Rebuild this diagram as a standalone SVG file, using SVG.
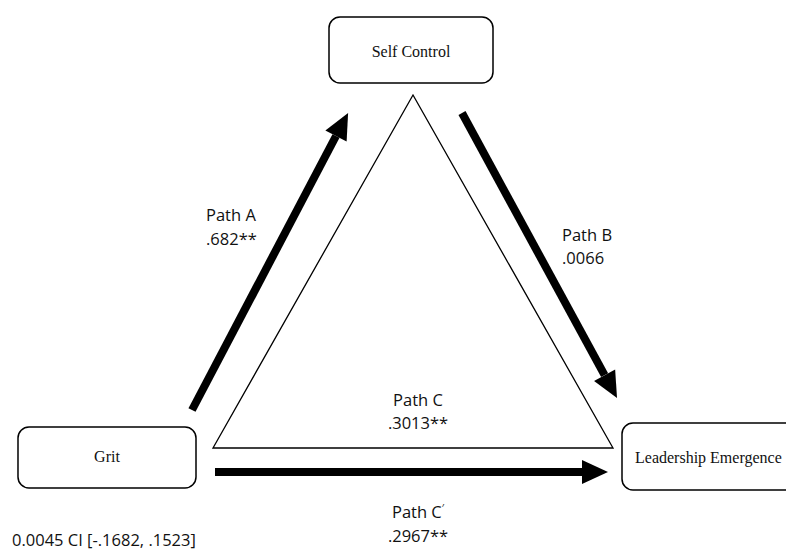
<svg xmlns="http://www.w3.org/2000/svg" width="786" height="557" viewBox="0 0 786 557">
<style>
.box{fill:#fff;stroke:#000;stroke-width:1.5}
.nt{font-family:"Liberation Serif","Times New Roman",serif;font-size:16px;fill:#111}
.lb{font-family:"Open Sans","Liberation Sans",sans-serif;font-size:16.5px;fill:#111}
.arr{stroke:#000;stroke-width:8;fill:none;marker-end:url(#ah)}
.tri{fill:none;stroke:#000;stroke-width:1.3}
</style>
<defs>
<marker id="ah" markerUnits="userSpaceOnUse" markerWidth="30" markerHeight="30" refX="0" refY="0" orient="auto" overflow="visible" viewBox="-2 -15 30 30">
<path d="M0,-12 L26,0 L0,12 z" fill="#000"/>
</marker>
</defs>
<rect width="786" height="557" fill="#fff"/>
<g id="triangle">
<polygon class="tri" points="413,95 213,448 613,448"/>
</g>
<g id="connectors">
<line id="pathA" class="arr" x1="192" y1="410" x2="336" y2="136"/>
<line id="pathB" class="arr" x1="462" y1="113" x2="604.6" y2="375.2"/>
<line id="pathC2" class="arr" x1="215" y1="472" x2="582" y2="472"/>
</g>
<g id="selfcontrol">
<rect class="box" x="329" y="17" width="164" height="66" rx="11"/>
<text class="nt" x="411" y="57" text-anchor="middle">Self Control</text>
</g>
<g id="grit">
<rect class="box" x="18" y="427" width="178" height="61" rx="11"/>
<text class="nt" x="107" y="462" text-anchor="middle">Grit</text>
</g>
<g id="leadership">
<rect class="box" x="622" y="423" width="190" height="67" rx="11"/>
<text class="nt" x="635" y="463" font-size="16.3">Leadership Emergence</text>
</g>
<g id="labels">
<text class="lb" x="206" y="221">Path A</text>
<text class="lb" x="206" y="245">.682**</text>
<text class="lb" x="562" y="241">Path B</text>
<text class="lb" x="562" y="264">.0066</text>
<text class="lb" x="418" y="406" text-anchor="middle">Path C</text>
<text class="lb" x="418" y="429" text-anchor="middle">.3013**</text>
<text class="lb" x="418" y="518" text-anchor="middle">Path C<tspan font-size="10" dy="-6">′</tspan></text>
<text class="lb" x="418" y="542" text-anchor="middle">.2967**</text>
<text class="lb" x="12" y="546">0.0045 CI [-.1682, .1523]</text>
</g>
</svg>
